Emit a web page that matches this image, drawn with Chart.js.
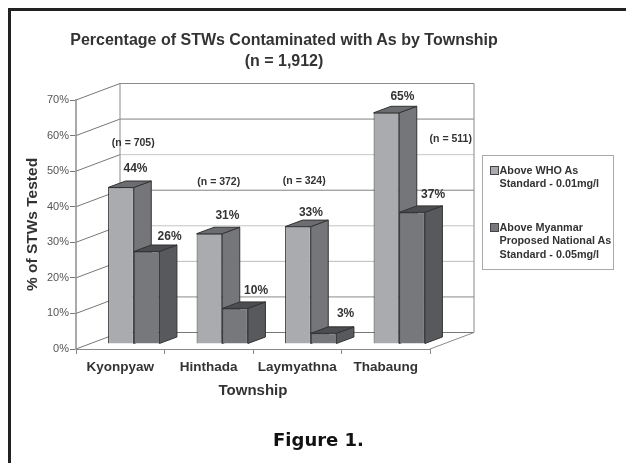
<!DOCTYPE html>
<html>
<head>
<meta charset="utf-8">
<title>Percentage of STWs Contaminated with As by Township</title>
<script src="https://cdn.jsdelivr.net/npm/chart.js@4"></script>
<style>
html, body { margin: 0; padding: 0; background: #fff; overflow: hidden; }
#page { position: relative; width: 626px; height: 463px; overflow: hidden; font-family: "Liberation Sans", Arial, sans-serif; color: #333; }
#frame { position: absolute; left: 8px; top: 8px; width: 640px; height: 480px; border-left: 3px solid #222; border-top: 3px solid #222; box-sizing: border-box; }
#chart { position: absolute; left: 0; top: 0; }
#title { position: absolute; left: 0; width: 568px; top: 29px; text-align: center; font-weight: bold; font-size: 16px; line-height: 21px; }
#figure { position: absolute; left: 0; width: 637px; top: 429px; text-align: center; font-family: "DejaVu Sans", sans-serif; font-weight: bold; font-size: 18px; color: #111; }
#legend { position: absolute; left: 482px; top: 155px; width: 132px; height: 115px; box-sizing: border-box; border: 1px solid #aaa; font-weight: bold; font-size: 10.8px; line-height: 13.6px; }
.item { position: absolute; left: 16.5px; white-space: nowrap; }
.swatch { position: absolute; left: -9.5px; top: 2.5px; width: 7px; height: 7px; border: 1px solid #444; }
</style>
</head>
<body>
<div id="page">
	<div id="frame"></div>
	<canvas id="chart" width="626" height="463"></canvas>
	<div id="title"></div>
	<div id="legend"></div>
	<div id="figure">Figure 1.</div>
</div>
<script>
"use strict";

const titleLines = ["Percentage of STWs Contaminated with As by Township", "(n = 1,912)"];
const townships = ["Kyonpyaw", "Hinthada", "Laymyathna", "Thabaung"];
const whoValues = [44, 31, 33, 65];
const myanmarValues = [26, 10, 3, 37];
const sampleLabels = ["(n = 705)", "(n = 372)", "(n = 324)", "(n = 511)"];
const whoLegend = ["Above WHO As", "Standard - 0.01mg/l"];
const myanmarLegend = ["Above Myanmar", "Proposed National As", "Standard - 0.05mg/l"];

// where the (n = ...) notes sit: y in axis units, x as pixels off the category centre
const sampleLevels = [57.8, 46.8, 47.3, 59];
const sampleNudge = [13, 10, 7, 65];
// hand placement of the value labels, [dx, dy] from the top centre of the bar front
const valueNudge = [
	[[14.6, -19], [18, -18], [13, -14], [16, -15.6]],
	[[23, -15], [21, -18], [22, -20], [21, -18]]
];
const wallLineColors = ["#777", "#8a8a8a", "#bbb", "#c4c4c4", "#808080", "#c8c8c8", "#808080", "#8a8a8a"];

const WALL = { dx: 44, dy: -16.5 };
const BAR = { shiftX: 13.5, shiftY: -5, dx: 17.5, dy: -6.5 };
const EDGE = "#333";
const FILLS = [
	{ front: "#aaabaf", side: "#75767a", top: "#6c6d71" },
	{ front: "#77787c", side: "#58595c", top: "#4c4d50" }
];

function drawBox(ctx, bar, fill) {
	const p = bar.getProps(["x", "y", "base", "width"], true);
	const l = p.x - p.width / 2, r = p.x + p.width / 2;
	bar.draw(ctx);
	ctx.strokeStyle = EDGE;
	ctx.lineWidth = 1;
	ctx.fillStyle = fill.side;
	ctx.beginPath();
	ctx.moveTo(r, p.y);
	ctx.lineTo(r + BAR.dx, p.y + BAR.dy);
	ctx.lineTo(r + BAR.dx, p.base + BAR.dy);
	ctx.lineTo(r, p.base);
	ctx.closePath();
	ctx.fill();
	ctx.stroke();
	ctx.fillStyle = fill.top;
	ctx.beginPath();
	ctx.moveTo(l, p.y);
	ctx.lineTo(l + BAR.dx, p.y + BAR.dy);
	ctx.lineTo(r + BAR.dx, p.y + BAR.dy);
	ctx.lineTo(r, p.y);
	ctx.closePath();
	ctx.fill();
	ctx.stroke();
}

const boxesPlugin = {
	id: "boxes",
	beforeDatasetsDraw(chart) {
		const { ctx, chartArea: a, scales: { y } } = chart;
		ctx.save();
		ctx.lineWidth = 1;
		y.ticks.forEach(function (t, i) {
			const py = y.getPixelForValue(t.value);
			ctx.strokeStyle = wallLineColors[i];
			ctx.beginPath();
			ctx.moveTo(a.left + WALL.dx, py + WALL.dy);
			ctx.lineTo(a.right + WALL.dx, py + WALL.dy);
			ctx.stroke();
			ctx.strokeStyle = "#777";
			ctx.beginPath();
			ctx.moveTo(a.left, py);
			ctx.lineTo(a.left + WALL.dx, py + WALL.dy);
			ctx.stroke();
		});
		ctx.strokeStyle = "#8a8a8a";
		ctx.beginPath();
		ctx.moveTo(a.left + WALL.dx, a.top + WALL.dy);
		ctx.lineTo(a.left + WALL.dx, a.bottom + WALL.dy);
		ctx.moveTo(a.right + WALL.dx, a.top + WALL.dy);
		ctx.lineTo(a.right + WALL.dx, a.bottom + WALL.dy);
		ctx.lineTo(a.right, a.bottom);
		ctx.stroke();
		ctx.restore();
	},
	// skip the flat bars, they get painted below with their sides, light series first
	beforeDatasetDraw() {
		return false;
	},
	afterDatasetsDraw(chart) {
		const { ctx, scales: { x, y } } = chart;
		ctx.save();
		ctx.translate(BAR.shiftX, BAR.shiftY);
		chart.data.datasets.forEach(function (ds, d) {
			chart.getDatasetMeta(d).data.forEach(function (bar) {
				drawBox(ctx, bar, FILLS[d]);
			});
		});
		ctx.restore();

		ctx.save();
		ctx.fillStyle = "#333";
		ctx.textAlign = "center";
		ctx.textBaseline = "middle";
		ctx.font = 'bold 12px "Liberation Sans", Arial, sans-serif';
		chart.data.datasets.forEach(function (ds, d) {
			chart.getDatasetMeta(d).data.forEach(function (bar, i) {
				const n = valueNudge[d][i];
				ctx.fillText(ds.data[i] + "%", bar.x + BAR.shiftX + n[0], bar.y + BAR.shiftY + n[1]);
			});
		});
		ctx.font = 'bold 10.5px "Liberation Sans", Arial, sans-serif';
		sampleLabels.forEach(function (s, i) {
			ctx.fillText(s, x.getPixelForValue(i) + sampleNudge[i], y.getPixelForValue(sampleLevels[i]));
		});
		ctx.restore();
	}
};

const chart = new Chart(document.getElementById("chart"), {
	type: "bar",
	data: {
		labels: townships,
		datasets: [
			{ label: whoLegend.join(" "), data: whoValues, backgroundColor: FILLS[0].front, borderColor: EDGE, borderWidth: 1 },
			{ label: myanmarLegend.join(" "), data: myanmarValues, backgroundColor: FILLS[1].front, borderColor: EDGE, borderWidth: 1 }
		]
	},
	options: {
		responsive: false,
		animation: false,
		layout: { padding: { left: 23, top: 100, right: 196, bottom: 63 } },
		categoryPercentage: 0.58,
		barPercentage: 1,
		plugins: { legend: { display: false }, title: { display: false }, tooltip: { enabled: false } },
		scales: {
			x: {
				afterFit: function (s) { s.height = 51; },
				border: { color: "#888", width: 1 },
				grid: { drawOnChartArea: false, color: "#888", tickLength: 5 },
				ticks: { color: "#333", padding: 5, maxRotation: 0, autoSkip: false, font: { family: "Liberation Sans", weight: "bold", size: 13.5 } },
				title: { display: true, text: "Township", color: "#333", padding: { top: 4, bottom: 0 }, font: { family: "Liberation Sans", weight: "bold", size: 15 } }
			},
			y: {
				min: 0,
				max: 70,
				afterFit: function (s) { s.width = 53; },
				border: { color: "#aaa", width: 2 },
				grid: { drawOnChartArea: false, color: "#777", tickLength: 6 },
				ticks: { stepSize: 10, color: "#555", padding: 1, callback: function (v) { return v + "%"; }, font: { family: "Liberation Sans", size: 11 } },
				title: { display: true, text: "% of STWs Tested", color: "#333", padding: { top: 0, bottom: 6 }, font: { family: "Liberation Sans", weight: "bold", size: 15.5 } }
			}
		}
	},
	plugins: [boxesPlugin]
});

document.getElementById("title").innerHTML = titleLines.join("<br>");

// legend is html, the labels have to wrap the way the original does
const legendEl = document.getElementById("legend");
[[whoLegend, 7.5], [myanmarLegend, 64.5]].forEach(function (entry, i) {
	const item = document.createElement("div");
	item.className = "item";
	item.style.top = entry[1] + "px";
	item.innerHTML = '<span class="swatch" style="background:' + chart.data.datasets[i].backgroundColor + '"></span>' + entry[0].join("<br>");
	legendEl.appendChild(item);
});
</script>
</body>
</html>
